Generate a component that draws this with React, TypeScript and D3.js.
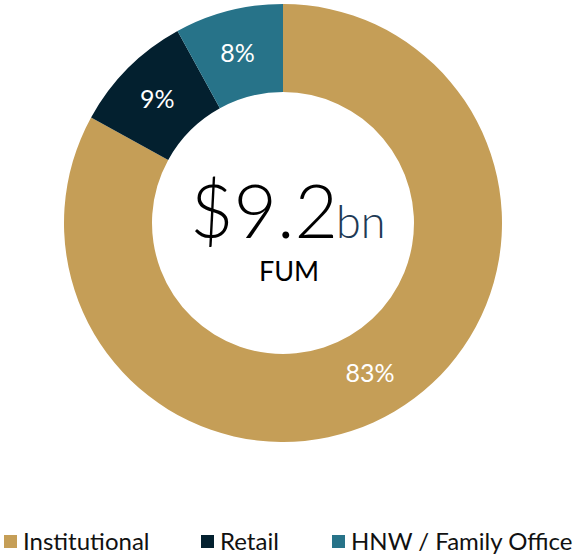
import React from "react";
import * as d3 from "d3";

const categories = ["Institutional", "Retail", "HNW / Family Office"];
const values = [83, 9, 8];
const labels = ["83%", "9%", "8%"];
const colors = ["#C59E57", "#03202F", "#277389"];

export default function App() {
  const W = 574, H = 555;
  const cx = 283, cy = 223;
  const outerR = 219, innerR = 131;
  const pie = d3.pie<number>().sort(null).value((d) => d);
  const arcs = pie(values);
  const arc = d3.arc<d3.PieArcDatum<number>>().innerRadius(innerR).outerRadius(outerR);
  const legendX = [4, 201, 332];
  const font = "Lato, 'Open Sans', sans-serif";
  return (
    <svg width={W} height={H} style={{ position: "absolute", left: 0, top: 0 }} fontFamily={font}>
      <g transform={`translate(${cx},${cy})`}>
        {arcs.map((a, i) => (
          <path key={i} d={arc(a) || ""} fill={colors[i]} />
        ))}
        {arcs.map((a, i) => {
          const [x, y] = arc.centroid(a);
          return (
            <text key={"l" + i} x={x - 2} y={y} dy="0.35em" textAnchor="middle" fill="#fff" fontSize={25}>
              {labels[i]}
            </text>
          );
        })}
      </g>
      <text x={190} y={238} fontSize={75} fontWeight={300} fill="#000">
        $9.2<tspan fontSize={45} fill="#1E3A55" dx={-2}>bn</tspan>
      </text>
      <text x={289} y={281} fontSize={27} textAnchor="middle" fill="#000">FUM</text>
      {categories.map((c, i) => (
        <g key={c}>
          <rect x={legendX[i]} y={535} width={13} height={13} fill={colors[i]} />
          <text x={legendX[i] + 19} y={550} fontSize={24} fill="#111">{c}</text>
        </g>
      ))}
    </svg>
  );
}
